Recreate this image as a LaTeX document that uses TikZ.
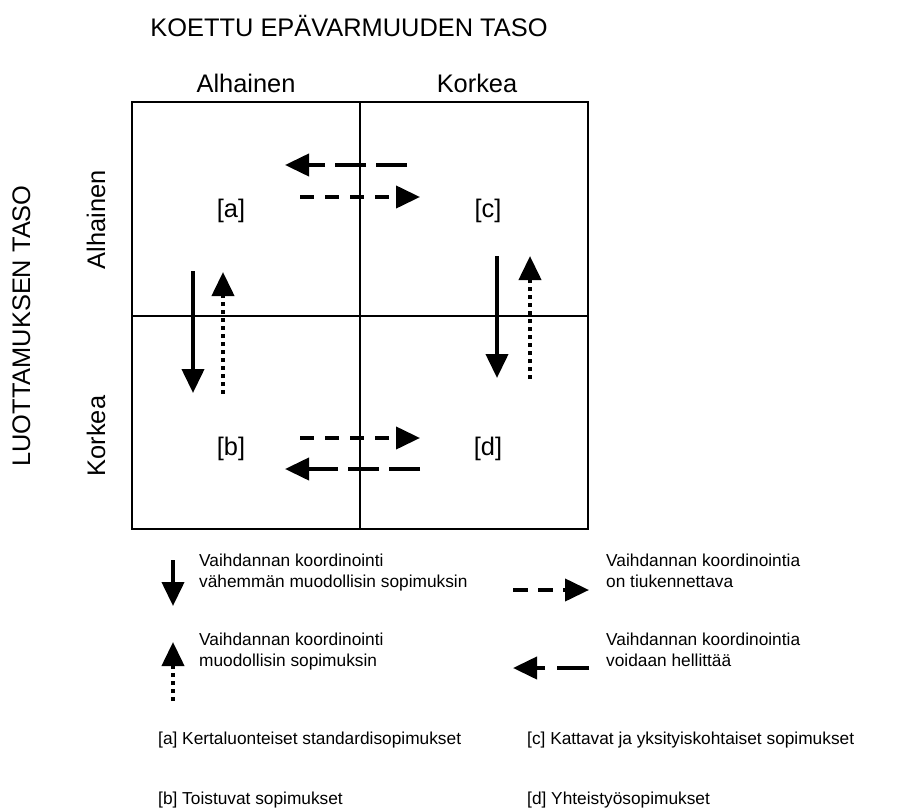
\documentclass[tikz,border=0pt]{standalone}
\usepackage{fontspec}
\setmainfont{Liberation Sans}
\usetikzlibrary{arrows.meta}
\begin{document}
\begin{tikzpicture}[x=1pt,y=-1pt,
  big/.style={font=\fontsize{25.4}{30}\selectfont, inner sep=0pt, anchor=base},
  small/.style={font=\fontsize{17.3}{21}\selectfont, inner sep=0pt, anchor=base west, align=left},
  gridline/.style={line width=2pt},
  arr/.style={line width=4pt, -{Triangle[length=24pt,width=22pt]}},
  solidarr/.style={arr},
  dotarr/.style={arr, dash pattern=on 4pt off 4pt},
  shortdash/.style={arr, dash pattern=on 14pt off 11pt},
  longdash/.style={arr, dash pattern=on 31pt off 10pt}]
\useasboundingbox (0,0) rectangle (917,810);

% matrix frame
\draw[gridline] (132,102) rectangle (588,529);
\draw[gridline] (360,102) -- (360,529);
\draw[gridline] (132,316) -- (588,316);

% headings
\node[big] (title) at (349,37) {KOETTU EPÄVARMUUDEN TASO};
\node[big] (colA) at (246,93) {Alhainen};
\node[big] (colB) at (477,93) {Korkea};
\node[big, rotate=90] (ytitle) at (30,326) {LUOTTAMUKSEN TASO};
\node[big, rotate=90] (rowA) at (105,220) {Alhainen};
\node[big, rotate=90] (rowB) at (105,436) {Korkea};

% quadrant labels
\node[big] (qa) at (231,218) {[a]};
\node[big] (qc) at (488,218) {[c]};
\node[big] (qb) at (231,455) {[b]};
\node[big] (qd) at (488,455) {[d]};

% arrow end points
\coordinate (ac1) at (407,165); \coordinate (ac2) at (285,165);
\coordinate (ca1) at (300,197); \coordinate (ca2) at (420,197);
\coordinate (bd1) at (300,438); \coordinate (bd2) at (420,438);
\coordinate (db1) at (420,469); \coordinate (db2) at (285,469);
\coordinate (ab1) at (193,271); \coordinate (ab2) at (193,393);
\coordinate (ba1) at (223,394); \coordinate (ba2) at (223,272);
\coordinate (cd1) at (497,256); \coordinate (cd2) at (497,378);
\coordinate (dc1) at (530,379); \coordinate (dc2) at (530,256);

\draw[longdash] (ac1) -- (ac2);
\draw[shortdash] (ca1) -- (ca2);
\draw[shortdash] (bd1) -- (bd2);
\draw[longdash] (db1) -- (db2);
\draw[solidarr] (ab1) -- (ab2);
\draw[dotarr] (ba1) -- (ba2);
\draw[solidarr] (cd1) -- (cd2);
\draw[dotarr] (dc1) -- (dc2);

% legend
\coordinate (l1a) at (173,560); \coordinate (l1b) at (173,606);
\coordinate (l2a) at (173,701); \coordinate (l2b) at (173,642);
\coordinate (l3a) at (513,590); \coordinate (l3b) at (589,590);
\coordinate (l4a) at (589,668); \coordinate (l4b) at (513,668);
\draw[solidarr] (l1a) -- (l1b);
\draw[dotarr] (l2a) -- (l2b);
\draw[arr, dash pattern=on 15pt off 10pt] (l3a) -- (l3b);
\draw[arr, dash pattern=on 32pt off 12pt] (l4a) -- (l4b);

\node[small] (t1) at (199,587) {Vaihdannan koordinointi\\vähemmän muodollisin sopimuksin};
\node[small] (t2) at (199,666) {Vaihdannan koordinointi\\muodollisin sopimuksin};
\node[small] (t3) at (606,587) {Vaihdannan koordinointia\\on tiukennettava};
\node[small] (t4) at (606,666) {Vaihdannan koordinointia\\voidaan hellittää};

% footnotes
\node[small] (fa) at (158,744) {[a] Kertaluonteiset standardisopimukset};
\node[small] (fc) at (527,744) {[c] Kattavat ja yksityiskohtaiset sopimukset};
\node[small] (fb) at (158,804) {[b] Toistuvat sopimukset};
\node[small] (fd) at (527,804) {[d] Yhteistyösopimukset};
\end{tikzpicture}
\end{document}
